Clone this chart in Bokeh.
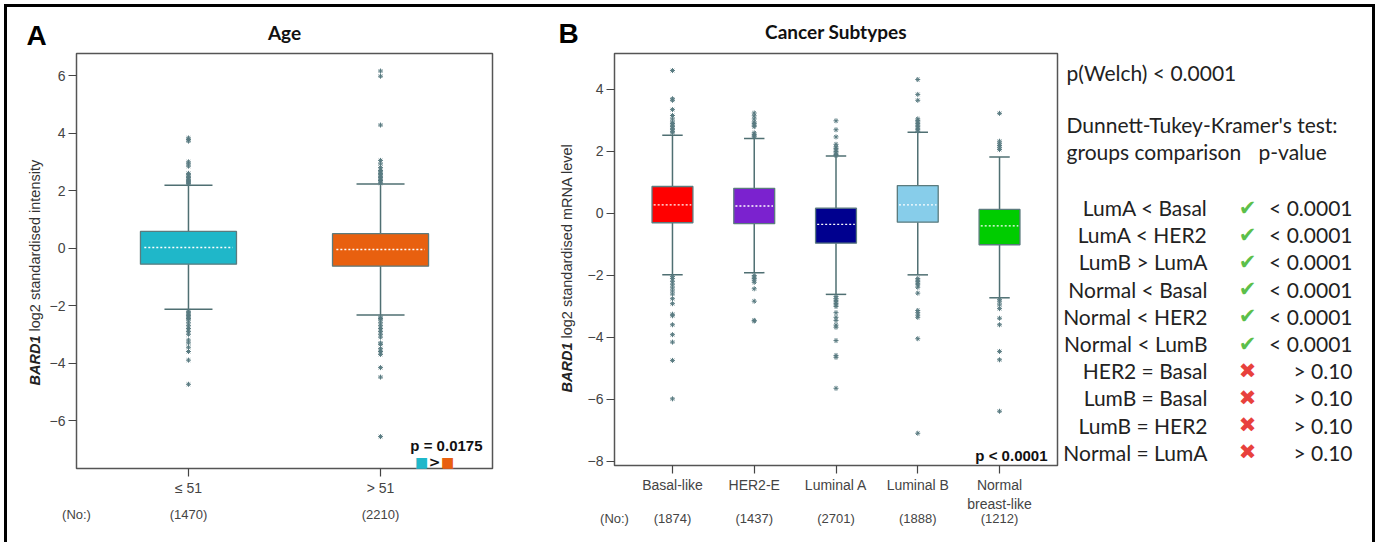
import numpy as np
from bokeh.plotting import figure
from bokeh.models import Range1d, FixedTicker, Label
from bokeh.layouts import row
from bokeh.embed import file_html
from bokeh.resources import INLINE
from bokeh.core.properties import value

# ---------------- Panel A: Age ----------------
age_groups = ["≤ 51", "> 51"]
age_counts = [1470, 2210]
age_q1 = [-0.56, -0.63]
age_median = [0.02, -0.05]
age_q3 = [0.58, 0.50]
age_lower = [-2.13, -2.33]
age_upper = [2.19, 2.23]
age_colors = ["#1fb7c9", "#e8600f"]
age_outliers = [
    [3.83, 3.78, 3.72, 3.0, 2.93, 2.85, 2.6, 2.55, 2.5, 2.45, 2.4, 2.36, 2.33, 2.3, 2.27, 2.24,
     -2.2, -2.25, -2.3, -2.35, -2.4, -2.45, -2.5, -2.6, -2.7, -2.8, -2.9, -3.0, -3.2, -3.3,
     -3.45, -3.6, -3.9, -4.74],
    [6.16, 5.98, 4.28, 3.05, 2.93, 2.8, 2.7, 2.65, 2.6, 2.55, 2.5, 2.45, 2.4, 2.35, 2.3, 2.26,
     -2.4, -2.45, -2.5, -2.6, -2.7, -2.8, -2.9, -3.0, -3.1, -3.3, -3.35, -3.5, -3.6, -3.7,
     -4.16, -4.49, -6.56],
]
age_yticks = [-6, -4, -2, 0, 2, 4, 6]
age_yrange = (-7.67, 6.77)
age_p_text = "p = 0.0175"

# ---------------- Panel B: Cancer subtypes ----------------
sub_groups = ["Basal-like", "HER2-E", "Luminal A", "Luminal B", "Normal\nbreast-like"]
sub_counts = [1874, 1437, 2701, 1888, 1212]
sub_q1 = [-0.30, -0.33, -0.96, -0.28, -1.01]
sub_median = [0.28, 0.24, -0.35, 0.28, -0.40]
sub_q3 = [0.87, 0.81, 0.17, 0.90, 0.13]
sub_lower = [-1.98, -1.91, -2.61, -1.98, -2.72]
sub_upper = [2.52, 2.42, 1.85, 2.62, 1.82]
sub_colors = ["#ff0000", "#7b22cf", "#00008f", "#87cdea", "#00cc00"]
sub_outliers = [
    [4.61, 3.7, 3.65, 3.35, 3.16, 3.05, 2.95, 2.9, 2.85, 2.8, 2.75, 2.7, 2.65, 2.6,
     -2.03, -2.1, -2.2, -2.3, -2.4, -2.5, -2.6, -2.75, -2.91, -3.25, -3.3, -3.59, -3.91,
     -4.15, -4.74, -5.98],
    [3.24, 3.15, 3.05, 2.95, 2.9, 2.85, 2.8, 2.6, 2.55, 2.5, 2.47,
     -2.0, -2.05, -2.1, -2.15, -2.22, -2.43, -2.83, -3.45, -3.47],
    [2.99, 2.7, 2.47, 2.23, 2.15, 2.1, 2.05, 2.0, 1.95, 1.9, 1.87,
     -2.68, -2.75, -2.8, -2.85, -2.9, -2.95, -3.0, -3.2, -3.35, -3.45, -3.6, -3.67, -4.1,
     -4.58, -4.64, -5.64],
    [4.32, 3.84, 3.65, 3.05, 3.0, 2.95, 2.9, 2.85, 2.8, 2.75, 2.7, 2.65,
     -2.1, -2.15, -2.2, -2.25, -2.3, -2.38, -2.57, -3.13, -3.2, -3.28, -3.35, -4.04, -7.09],
    [3.23, 2.33, 2.25, 2.19, 2.12, 2.06,
     -2.77, -2.85, -2.95, -3.07, -3.38, -3.59, -4.45, -4.72, -6.38],
]
sub_yticks = [-8, -6, -4, -2, 0, 2, 4]
sub_yrange = (-8.13, 5.16)
sub_p_text = "p < 0.0001"

# ---------------- Statistics text ----------------
welch_text = "p(Welch) < 0.0001"
test_title = "Dunnett-Tukey-Kramer's test:"
comparisons = ["LumA < Basal", "LumA < HER2", "LumB > LumA", "Normal < Basal",
               "Normal < HER2", "Normal < LumB", "HER2 = Basal", "LumB = Basal",
               "LumB = HER2", "Normal = LumA"]
significant = [True, True, True, True, True, True, False, False, False, False]
pvalues = ["< 0.0001", "< 0.0001", "< 0.0001", "< 0.0001", "< 0.0001", "< 0.0001",
           "> 0.10", "> 0.10", "> 0.10", "> 0.10"]

AX_FONT = "Liberation Sans"
TICK_COLOR = "#444444"
LINE_COLOR = "#4f6f72"
OUT_COLOR = "#587a80"
CANVAS_H = 535
ORIGIN = (7, 7)  # page position of the canvases' top-left corner


def make_panel(width, x_origin, box_px, xrange_box, yrange_box):
    """Figure whose frame is its whole canvas; the plot box sits at box_px (page pixels)."""
    left, top, right, bottom = box_px
    x0, x1 = xrange_box
    y0, y1 = yrange_box
    sx = (right - left) / (x1 - x0)
    sy = (bottom - top) / (y1 - y0)
    xr = Range1d(x0 - (left - x_origin) / sx, x1 + (x_origin + width - right) / sx)
    yr = Range1d(y0 - (ORIGIN[1] + CANVAS_H - bottom) / sy, y1 + (top - ORIGIN[1]) / sy)
    p = figure(width=width, height=CANVAS_H, x_range=xr, y_range=yr, output_backend="svg",
               toolbar_location=None, title=None, min_border=0)
    p.outline_line_color = None
    p.xgrid.visible = False
    p.ygrid.visible = False
    p.quad(left=[x0], right=[x1], bottom=[y0], top=[y1], fill_color=None,
           line_color="#555555", line_width=1.5)
    return p


def style_axes(p, xrange_box, yrange_box, yticks, xlabels):
    p.yaxis.fixed_location = xrange_box[0]
    p.xaxis.fixed_location = yrange_box[0]
    p.yaxis.ticker = FixedTicker(ticks=yticks)
    n = len(xlabels)
    p.xaxis.ticker = FixedTicker(ticks=list(range(1, n + 1)))
    p.xaxis.major_label_overrides = {i + 1: lab for i, lab in enumerate(xlabels)}
    for ax in (p.xaxis[0], p.yaxis[0]):
        ax.axis_line_color = None
        ax.major_tick_in = 0
        ax.major_tick_out = 8
        ax.major_tick_line_color = TICK_COLOR
        ax.major_tick_line_width = 1.2
        ax.minor_tick_line_color = None
        ax.major_label_text_font = AX_FONT
        ax.major_label_text_font_size = "14px"
        ax.major_label_text_color = TICK_COLOR
        ax.major_label_standoff = 3


def draw_boxes(p, q1, med, q3, lo, hi, colors, outliers, box_w=0.5):
    x = list(range(1, len(q1) + 1))
    p.segment(x0=x, y0=q3, x1=x, y1=hi, line_color=LINE_COLOR, line_width=1.5)
    p.segment(x0=x, y0=q1, x1=x, y1=lo, line_color=LINE_COLOR, line_width=1.5)
    cap = box_w / 4
    p.segment(x0=[v - cap for v in x], y0=hi, x1=[v + cap for v in x], y1=hi,
              line_color=LINE_COLOR, line_width=1.5)
    p.segment(x0=[v - cap for v in x], y0=lo, x1=[v + cap for v in x], y1=lo,
              line_color=LINE_COLOR, line_width=1.5)
    ox, oy = [], []
    for i, vals in enumerate(outliers):
        ox += [i + 1] * len(vals)
        oy += vals
    p.scatter(x=ox, y=oy, marker="asterisk", size=5, line_color=OUT_COLOR, line_width=1)
    p.vbar(x=x, width=box_w, bottom=q1, top=q3, fill_color=colors,
           line_color="#5b7b7e", line_width=1.3)
    h = box_w / 2 - 0.02
    p.segment(x0=[v - h for v in x], y0=med, x1=[v + h for v in x], y1=med,
              line_color="white", line_width=1.3, line_dash="2 2")


def lab(p, x, y, text, dx=0, dy=0, **kw):
    opts = dict(text_align="center", text_baseline="middle", text_font=AX_FONT,
                text_font_size="13px", text_color=TICK_COLOR)
    opts.update(kw)
    p.add_layout(Label(x=x, y=y, x_offset=dx, y_offset=dy, text=text, **opts))


def decorate(p, xr, yr, letter, letter_d, title, title_dy, ylab_rest, ylab_d, counts,
             counts_dy):
    x0, x1 = xr
    y0, y1 = yr
    lab(p, (x0 + x1) / 2, y1, title, dy=title_dy, text_font="Lato", text_font_style="bold",
        text_font_size="19px", text_color="#111111")
    lab(p, x0, y1, letter, dx=letter_d[0], dy=letter_d[1], text_font_style="bold",
        text_font_size="28px", text_color="#000000")
    lab(p, x0, y0, "BARD1", dx=ylab_d[0], dy=ylab_d[1], angle=90, angle_units="deg",
        text_align="left", text_font_style="bold italic", text_font_size="14.5px",
        text_color="#222222")
    lab(p, x0, y0, ylab_rest, dx=ylab_d[0], dy=ylab_d[1] + 54, angle=90, angle_units="deg",
        text_align="left", text_font_size="14.5px", text_color="#333333")
    lab(p, x0, y0, "(No:)", dy=counts_dy)
    for i, c in enumerate(counts):
        lab(p, i + 1, y0, f"({c})", dy=counts_dy)


# ---------- Figure A ----------
A_X = (0.417, 2.583)
pA = make_panel(545, 7, (76, 53, 492, 468), A_X, age_yrange)
style_axes(pA, A_X, age_yrange, age_yticks, age_groups)
draw_boxes(pA, age_q1, age_median, age_q3, age_lower, age_upper, age_colors, age_outliers)
decorate(pA, A_X, age_yrange, "A", (-40, 18), "Age", 21, "log2 standardised intensity",
         (-42, 83), age_counts, -46)
lab(pA, A_X[1], age_yrange[0], age_p_text, dx=-10, dy=23, text_align="right",
    text_font_style="bold", text_font_size="15px", text_color="#111111")
for dx, txt, col in [(-71, "■", age_colors[0]), (-58, ">", "#111111"), (-45, "■", age_colors[1])]:
    lab(pA, A_X[1], age_yrange[0], txt, dx=dx, dy=7, text_font="DejaVu Sans",
        text_font_style="bold", text_font_size="14px", text_color=col)

# ---------- Figure B ----------
B_X = (0.291, 5.709)
pB = make_panel(510, 552, (614, 53, 1057, 465), B_X, sub_yrange)
style_axes(pB, B_X, sub_yrange, sub_yticks, sub_groups)
draw_boxes(pB, sub_q1, sub_median, sub_q3, sub_lower, sub_upper, sub_colors, sub_outliers)
decorate(pB, B_X, sub_yrange, "B", (-46, 20), "Cancer Subtypes", 22,
         "log2 standardised mRNA level", (-48, 73), sub_counts, -53)
lab(pB, B_X[1], sub_yrange[0], sub_p_text, dx=-10, dy=10, text_align="right",
    text_font_style="bold", text_font_size="15px", text_color="#111111")

# ---------- Statistics panel ----------
pT = figure(width=310, height=CANVAS_H, x_range=Range1d(1062, 1372),
            y_range=Range1d(ORIGIN[1] + CANVAS_H, ORIGIN[1]),
            output_backend="svg", toolbar_location=None, title=None,
            x_axis_type=None, y_axis_type=None, min_border=0)
pT.xgrid.visible = False
pT.ygrid.visible = False
pT.outline_line_color = None
TF = value("Lato")
TS = "21px"
pT.text(x=[1066, 1066, 1066, 1258], y=[72, 124, 151, 151],
        text=[welch_text, test_title, "groups comparison", "p-value"],
        text_font=TF, text_font_size=TS, text_baseline="middle", text_align="left",
        text_color="#222222")
row_y = [207 + 27.2 * i for i in range(len(comparisons))]
pT.text(x=[1207] * len(comparisons), y=row_y, text=comparisons, text_font=TF,
        text_font_size=TS, text_baseline="middle", text_align="right", text_color="#222222")
pT.text(x=[1352] * len(pvalues), y=row_y, text=pvalues, text_font=TF,
        text_font_size=TS, text_baseline="middle", text_align="right", text_color="#222222")
icons = ["✔" if s else "✖" for s in significant]
icon_colors = ["#5cbf4a" if s else "#e8413c" for s in significant]
pT.text(x=[1247] * len(icons), y=row_y, text=icons, text_color=icon_colors,
        text_font=value("DejaVu Sans"), text_font_size="21px", text_baseline="middle",
        text_align="center")

layout = row(pA, pB, pT, styles={"border-top": "3px solid black", "border-left": "3px solid black",
                                 "border-right": "3px solid black", "margin-left": "4px",
                                 "margin-top": "4px"})

open("out.html", "w").write(file_html(layout, INLINE))
